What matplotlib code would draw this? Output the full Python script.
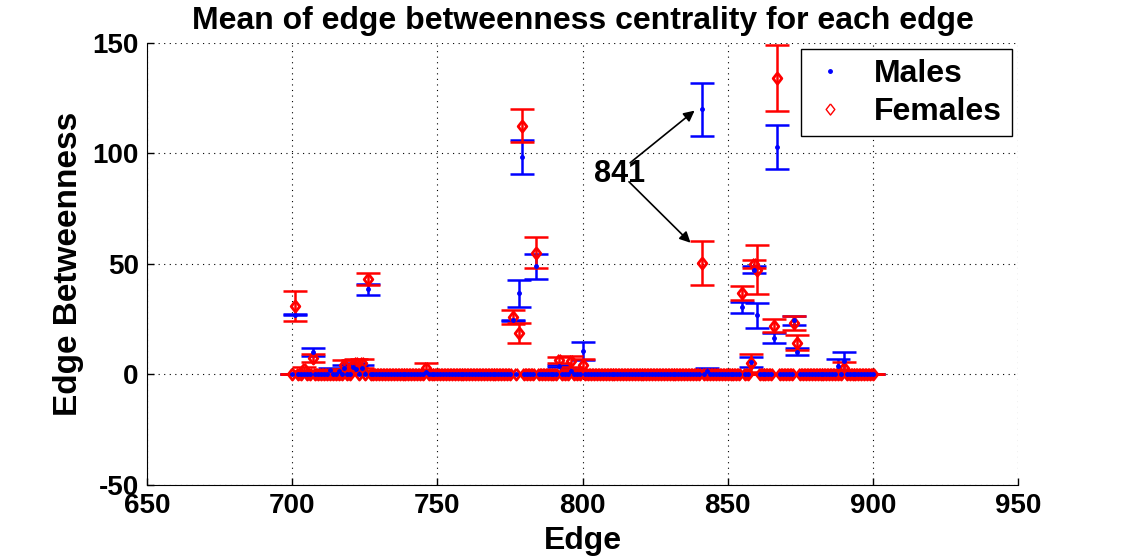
import numpy as np
import matplotlib
matplotlib.use('Agg')
import matplotlib.pyplot as plt
from matplotlib.lines import Line2D

plt.rcParams['font.family'] = ['Liberation Sans', 'DejaVu Sans']
plt.rcParams['font.weight'] = 'bold'
plt.rcParams['axes.unicode_minus'] = False

# edges 700..900, most of them have zero betweenness
edges = np.arange(700, 901)

# non-zero edges: edge, mean, error
male_edges = [701, 707, 713, 716, 718, 721, 722, 724, 726, 746, 776, 778, 779, 784,
              792, 796, 800, 841, 843, 855, 858, 859, 860, 866, 867, 873, 874, 888, 890]
male_mean = [27, 10.3, 2, 1.5, 3, 3.5, 2.5, 3, 38.5, 1, 24.5, 36.7, 98.3, 49,
             4, 1.5, 10.6, 120, 1.5, 30.5, 5.6, 47.5, 26.7, 16.4, 103, 24.6, 10.3, 4, 6]
male_err = [0.3, 1.8, 1, 1, 1.5, 1.5, 1.5, 1.5, 2.5, 1, 0.3, 6, 7.6, 5.7,
            0.5, 1, 3.9, 12, 1.4, 2.5, 2.2, 1.5, 5.5, 2.3, 10, 2, 1.5, 3, 4.3]

female_edges = [701, 704, 707, 718, 721, 722, 724, 726, 746, 776, 778, 779, 784,
                792, 796, 800, 841, 855, 858, 859, 860, 866, 867, 873, 874, 890]
female_mean = [31, 2.5, 7.5, 4.5, 4.5, 5, 5, 43, 3, 26, 18.8, 112.5, 55,
               6.5, 6, 4.5, 50.5, 37, 5.3, 50, 47.5, 22, 134, 23.4, 14.4, 3]
female_err = [7, 1, 1.7, 2, 2, 2, 2, 2.7, 2, 3, 4.4, 7.5, 7,
              1.5, 2.5, 2.3, 9.8, 3.2, 4, 1.8, 11.2, 3, 15, 3.2, 3.3, 2.8]


def fill(ed, mean, err):
    m = np.zeros(len(edges))
    e = np.zeros(len(edges))
    for k, v, s in zip(ed, mean, err):
        m[k - 700] = v
        e[k - 700] = s
    return m, e


males, males_e = fill(male_edges, male_mean, male_err)
females, females_e = fill(female_edges, female_mean, female_err)

diamond = [(0, 1), (0.78, 0), (0, -1), (-0.78, 0), (0, 1)]

fig = plt.figure(figsize=(11.25, 5.59), dpi=100)
ax = fig.add_axes([0.1307, 0.1324, 0.7742, 0.7907])

ax.errorbar(edges, males, yerr=males_e, fmt='.', color='b', ms=5,
            elinewidth=1.8, capsize=8.8, capthick=1.8, linestyle='none')
ax.errorbar(edges, females, yerr=females_e, fmt='none', ecolor='r',
            elinewidth=1.8, capsize=8.8, capthick=1.8)
ax.plot(edges, females, linestyle='none', marker=diamond, ms=8, mfc='none',
        mec='r', mew=2)

ax.set_xlim(650, 950)
ax.set_ylim(-50, 150)
ax.set_xticks([650, 700, 750, 800, 850, 900, 950])
ax.set_yticks([-50, 0, 50, 100, 150])
ax.grid(True, color='k', linestyle=(0, (1, 4)), linewidth=0.8)
ax.spines['top'].set_visible(False)
ax.spines['right'].set_visible(False)
ax.tick_params(direction='in', length=5, width=1, labelsize=20)
ax.tick_params(axis='y', pad=6)
ax.tick_params(axis='x', pad=6)

ax.set_title('Mean of edge betweenness centrality for each edge', fontsize=23,
             fontweight='bold', pad=10)
ax.set_xlabel('Edge', fontsize=23, fontweight='bold', labelpad=5)
ax.set_ylabel('Edge Betweenness', fontsize=24, fontweight='bold', labelpad=6)

# annotation for edge 841
ax.text(812.6, 90.7, '841', fontsize=22, fontweight='bold', ha='center', va='center')
ax.annotate('', xy=(838.6, 119.4), xytext=(816.4, 95.8),
            arrowprops=dict(arrowstyle='-|>', color='k', lw=1.2, mutation_scale=16,
                            shrinkA=0, shrinkB=0))
ax.annotate('', xy=(837.2, 59.6), xytext=(816.0, 87.2),
            arrowprops=dict(arrowstyle='-|>', color='k', lw=1.2, mutation_scale=16,
                            shrinkA=0, shrinkB=0))

handles = [Line2D([0], [0], linestyle='none', marker='.', color='b', ms=5),
           Line2D([0], [0], linestyle='none', marker=diamond, ms=8, mfc='none',
                  mec='r', mew=1)]
leg = ax.legend(handles, ['Males', 'Females'], loc='upper right',
                bbox_to_anchor=(0.993, 0.986), borderaxespad=0, fancybox=False,
                edgecolor='k', framealpha=1, fontsize=23, handlelength=1.2,
                handletextpad=0.8, borderpad=0.3, labelspacing=0.25)
leg.get_frame().set_linewidth(1)

fig.savefig('out.png', dpi=100)
